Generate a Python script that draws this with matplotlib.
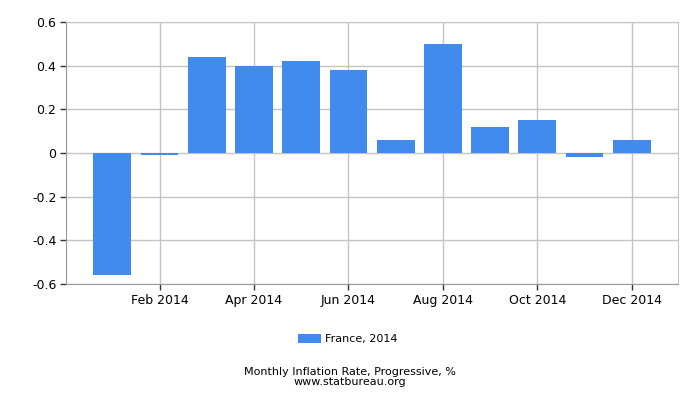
import matplotlib
matplotlib.use("Agg")
import matplotlib.pyplot as plt
import numpy as np

months = ["Jan 2014", "Feb 2014", "Mar 2014", "Apr 2014", "May 2014", "Jun 2014",
          "Jul 2014", "Aug 2014", "Sep 2014", "Oct 2014", "Nov 2014", "Dec 2014"]
rates = [-0.56, -0.01, 0.44, 0.40, 0.42, 0.38, 0.06, 0.50, 0.12, 0.15, -0.02, 0.06]
y_ticks = [-0.6, -0.4, -0.2, 0, 0.2, 0.4, 0.6]
y_labels = ["-0.6", "-0.4", "-0.2", "0", "0.2", "0.4", "0.6"]

plt.rcParams["font.family"] = "DejaVu Sans"

fig = plt.figure(figsize=(7, 4), dpi=100)
ax = fig.add_axes([0.0943, 0.29, 0.8743, 0.655])

x = np.arange(len(months))
ax.bar(x, rates, width=0.8, color="#418bee", label="France, 2014", zorder=3)

tick_pos = x[1::2]
ax.set_xticks(tick_pos)
ax.set_xticklabels([months[i] for i in tick_pos], fontsize=9)
ax.set_xlim(-0.98, 11.98)
ax.set_ylim(-0.6, 0.6)
ax.set_yticks(y_ticks)
ax.set_yticklabels(y_labels, fontsize=9)

ax.grid(True, color="#c4c4c4", linewidth=1, zorder=0)
for s in ax.spines.values():
    s.set_color("#c4c4c4")
ax.spines["left"].set_color("#999999")
ax.spines["bottom"].set_color("#999999")
ax.tick_params(axis="both", color="#333333", length=4, width=1, pad=3)

fig.legend(loc="center", bbox_to_anchor=(0.497, 0.152), frameon=False,
           fontsize=8, handlelength=2.0, handleheight=0.8, handletextpad=0.4)

fig.text(0.5, 0.063, "Monthly Inflation Rate, Progressive, %", ha="center", fontsize=8)
fig.text(0.5, 0.037, "www.statbureau.org", ha="center", fontsize=8)

fig.savefig("out.png", dpi=100)
